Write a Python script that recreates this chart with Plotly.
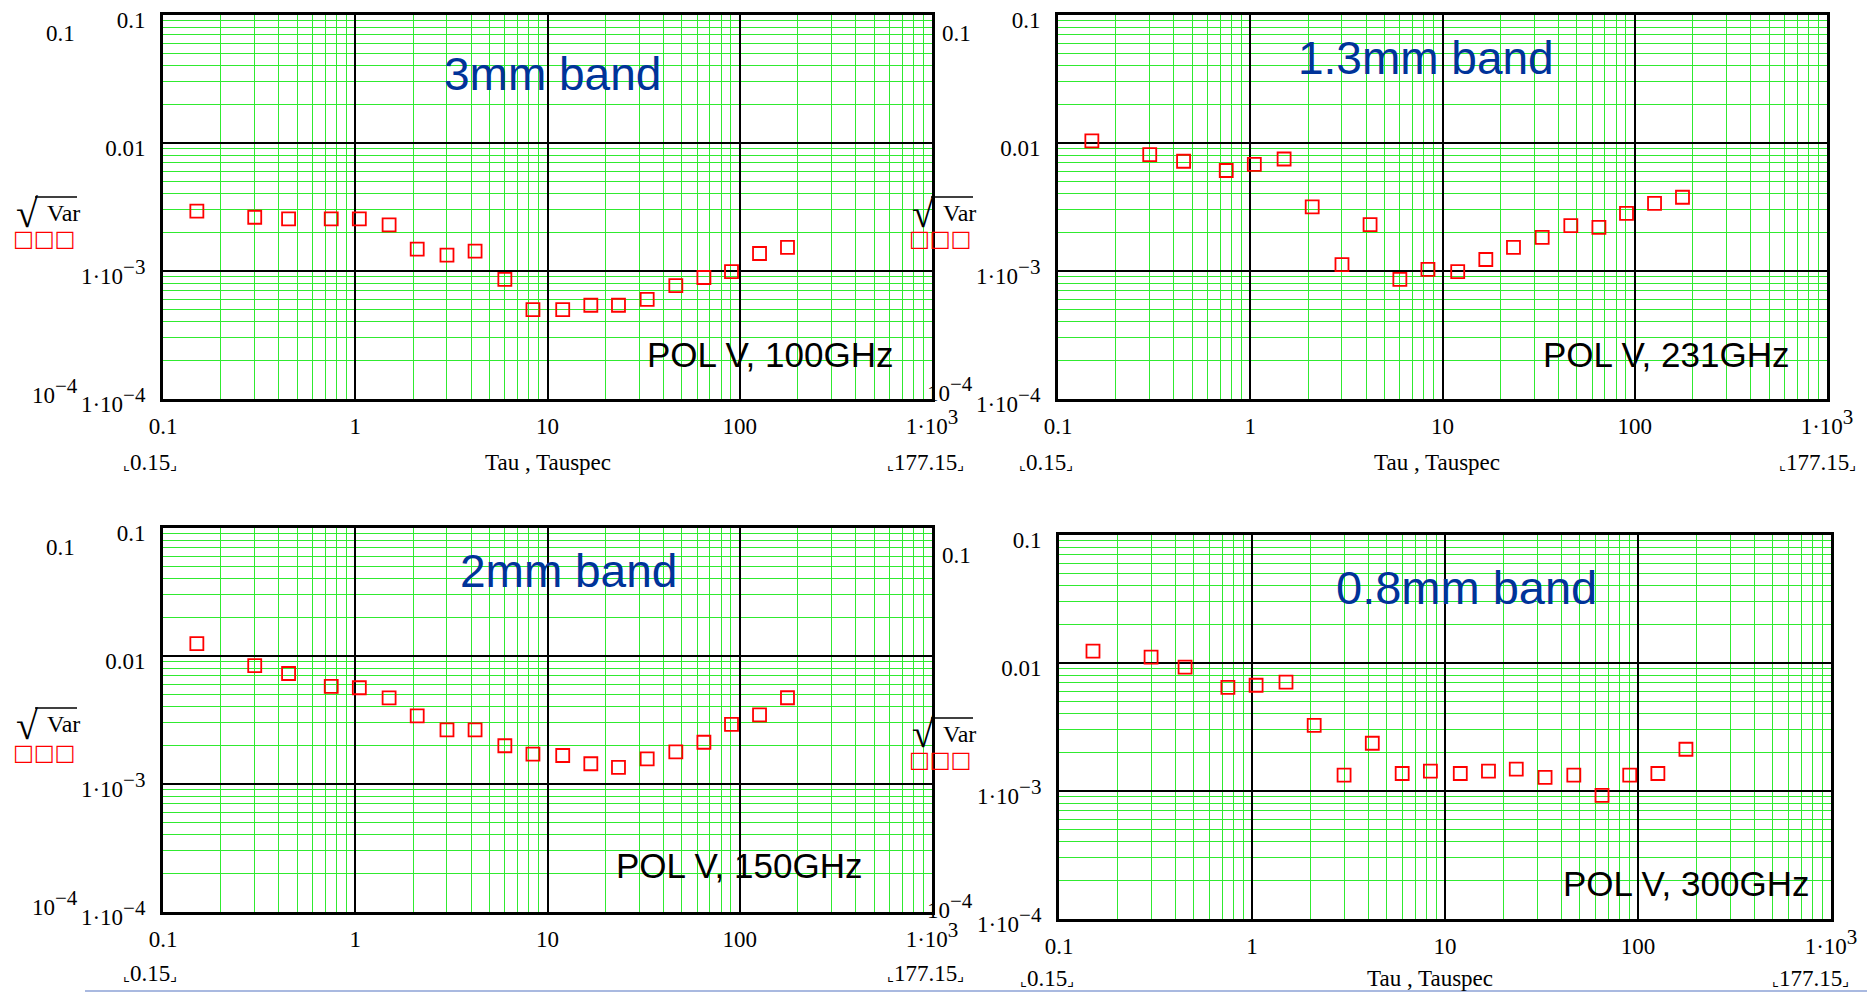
import plotly.graph_objects as go

W, H = 1867, 993

# Averaging time (s) shared by every band
tau = [0.15, 0.3, 0.45, 0.75, 1.05, 1.5, 2.1, 3.0, 4.2, 6.0, 8.4, 12.0,
       16.8, 23.4, 33.0, 46.5, 65.1, 90.6, 126.75, 177.15]

# sqrt(Var) per band
sd_100 = [2.94e-3, 2.63e-3, 2.55e-3, 2.55e-3, 2.55e-3, 2.29e-3, 1.48e-3, 1.33e-3,
          1.43e-3, 8.6e-4, 5.0e-4, 5.0e-4, 5.4e-4, 5.4e-4, 6.0e-4, 7.7e-4,
          8.9e-4, 9.9e-4, 1.37e-3, 1.53e-3]
sd_231 = [1.04e-2, 8.1e-3, 7.2e-3, 6.1e-3, 6.8e-3, 7.5e-3, 3.17e-3, 1.12e-3,
          2.30e-3, 8.6e-4, 1.03e-3, 9.9e-4, 1.23e-3, 1.53e-3, 1.83e-3, 2.26e-3,
          2.19e-3, 2.82e-3, 3.38e-3, 3.77e-3]
sd_150 = [1.25e-2, 8.4e-3, 7.3e-3, 5.8e-3, 5.65e-3, 4.7e-3, 3.41e-3, 2.65e-3,
          2.65e-3, 1.99e-3, 1.71e-3, 1.67e-3, 1.44e-3, 1.35e-3, 1.57e-3, 1.78e-3,
          2.12e-3, 2.92e-3, 3.47e-3, 4.72e-3]
sd_300 = [1.24e-2, 1.11e-2, 9.3e-3, 6.45e-3, 6.7e-3, 7.1e-3, 3.26e-3, 1.33e-3,
          2.36e-3, 1.37e-3, 1.43e-3, 1.37e-3, 1.43e-3, 1.48e-3, 1.28e-3, 1.33e-3,
          9.25e-4, 1.33e-3, 1.37e-3, 2.12e-3]

band_titles = ["3mm band", "1.3mm band", "2mm band", "0.8mm band"]
pol_labels = ["POL V, 100GHz", "POL V, 231GHz", "POL V, 150GHz", "POL V, 300GHz"]
series = [sd_100, sd_231, sd_150, sd_300]


def sup(base, exp):
    # Mathcad-style exponent: raised, but nearly full size
    return f"{base}<sup><span style='font-size:21px'>{exp}</span></sup>"


def bracket(value):
    # small corner brackets around a range-limit value
    return (f"<span style='font-size:15px'>⌞</span>{value:g}"
            f"<span style='font-size:15px'>⌟</span>")


x_tickvals = [0.1, 1, 10, 100, 1000]
x_ticktext = ["0.1", "1", "10", "100", sup("1·10", "3")]
y_tickvals = [0.1, 0.01, 0.001, 0.0001]
y_ticktext = ["0.1", "0.01", sup("1·10", "−3"), sup("1·10", "−4")]
x_axis_title = "Tau , Tauspec"

x_minor = [m * 10.0 ** e for e in range(-1, 3) for m in range(2, 10)]
y_minor = [m * 10.0 ** e for e in range(-4, -1) for m in range(2, 10)]

# panel frames in pixels: left, top, right, bottom
boxes = [(163, 15, 932, 399), (1058, 15, 1827, 399),
         (163, 528, 932, 912), (1059, 535, 1831, 919)]
title_pos = [(552, 74), (1426, 58), (568, 571), (1466, 587)]
title_size = [46, 46, 46, 47]
pol_pos = [(770, 355), (1666, 355), (739, 865), (1686, 883)]
# centres of the limit labels under each panel: (first, last, row y)
limit_pos = [(150, 925, 462), (1046, 1817, 462), (150, 925, 973), (1047, 1810, 978)]


def fx(px):
    return px / W


def fy(py):
    return 1 - py / H


SERIF = "Liberation Serif, Times New Roman, serif"
SANS = "Liberation Sans, Arial, sans-serif"
GREEN = "#30ea30"

fig = go.Figure()
layout = dict(template="none", width=W, height=H,
              margin=dict(l=0, r=0, t=0, b=0, pad=0, autoexpand=False),
              paper_bgcolor="white", plot_bgcolor="white", showlegend=False)
annotations = []
shapes = []


def note(text, px, py, size=23, color="black", family=SERIF, xanchor="center"):
    annotations.append(dict(text=text, x=fx(px), y=fy(py), xref="paper", yref="paper",
                            showarrow=False, xanchor=xanchor, yanchor="middle",
                            font=dict(size=size, color=color, family=family)))


for i, (box, sd) in enumerate(zip(boxes, series)):
    l, t, r, b = box
    xa = "xaxis" if i == 0 else f"xaxis{i + 1}"
    ya = "yaxis" if i == 0 else f"yaxis{i + 1}"
    xr = "x" if i == 0 else f"x{i + 1}"
    yr = "y" if i == 0 else f"y{i + 1}"
    layout[xa] = dict(type="log", range=[-1, 3], domain=[fx(l), fx(r)], anchor=yr,
                      automargin=False,
                      tickvals=x_tickvals, ticktext=x_ticktext, ticks="",
                      ticklabelstandoff=4,
                      showgrid=True, gridcolor="black", gridwidth=2,
                      minor=dict(tickmode="array", tickvals=x_minor, showgrid=True,
                                 gridcolor=GREEN, gridwidth=1.3, ticks=""),
                      showline=True, linecolor="black", linewidth=3, mirror=True,
                      zeroline=False,
                      tickfont=dict(family=SERIF, size=23, color="black"),
                      fixedrange=True)
    layout[ya] = dict(type="log", range=[-4, -1], domain=[fy(b), fy(t)], anchor=xr,
                      automargin=False,
                      tickvals=y_tickvals, ticktext=y_ticktext, ticks="",
                      ticklabelstandoff=10, ticklabelshift=5,
                      showgrid=True, gridcolor="black", gridwidth=2,
                      minor=dict(tickmode="array", tickvals=y_minor, showgrid=True,
                                 gridcolor=GREEN, gridwidth=1.3, ticks=""),
                      showline=True, linecolor="black", linewidth=3, mirror=True,
                      zeroline=False,
                      tickfont=dict(family=SERIF, size=23, color="black"),
                      fixedrange=True)
    fig.add_trace(go.Scatter(x=tau, y=sd, mode="markers", xaxis=xr, yaxis=yr,
                             marker=dict(symbol="square-open", size=13, color="red",
                                         line=dict(width=1.8, color="red")),
                             hoverinfo="x+y"))
    tx, ty = title_pos[i]
    note(band_titles[i], tx, ty, size=title_size[i], color="#003399", family=SANS)
    px_, py_ = pol_pos[i]
    note(pol_labels[i], px_, py_, size=35, color="black", family=SANS)

    # limit markers under the x axis
    first_x, last_x, lbl_y = limit_pos[i]
    note(bracket(tau[0]), first_x, lbl_y, size=23)
    note(bracket(tau[-1]), last_x, lbl_y, size=23)


# axis caption under the panels
note(x_axis_title, 548, 463, size=23)
note(x_axis_title, 1437, 463, size=23)
note(x_axis_title, 1430, 978, size=23)


def var_label(x0, ytop, ybot, sym_y):
    # radical sign, vinculum, "Var" and the trace symbol row
    note("√", x0 + 5, (ytop + ybot) / 2 + 1, size=40)
    shapes.append(dict(type="line", xref="paper", yref="paper",
                       x0=fx(x0 + 13), x1=fx(x0 + 55), y0=fy(ytop), y1=fy(ytop),
                       line=dict(color="black", width=1.6)))
    note("Var", x0 + 41, ytop + 16, size=24)
    note("□□□", x0 + 22, sym_y, size=22, color="red",
         family="DejaVu Sans, sans-serif")


# outer range labels on the sides of the left-hand panels
for top, bottom_lbl, ytop, ybot, sym_y in [(33, 391, 197, 228, 239),
                                            (547, 903, 708, 740, 752)]:
    note("0.1", 61, top)
    note(sup("10", "−4"), 55, bottom_lbl)
    var_label(22, ytop, ybot, sym_y)

note("0.1", 957, 33)
note(sup("10", "−4"), 950, 389)
var_label(918, 197, 228, 239)
note("0.1", 957, 555)
note(sup("10", "−4"), 950, 906)
var_label(918, 718, 747, 759)

# thin rule along the bottom edge
shapes.append(dict(type="line", xref="paper", yref="paper",
                   x0=fx(85), x1=1, y0=fy(991), y1=fy(991),
                   line=dict(color="#a9b9e0", width=2)))

layout["annotations"] = annotations
layout["shapes"] = shapes
fig.update_layout(**layout)
fig.write_html("out.html", config={"displayModeBar": False},
               post_script="document.body.style.margin='0px';"
                           "document.body.style.overflow='hidden';")
